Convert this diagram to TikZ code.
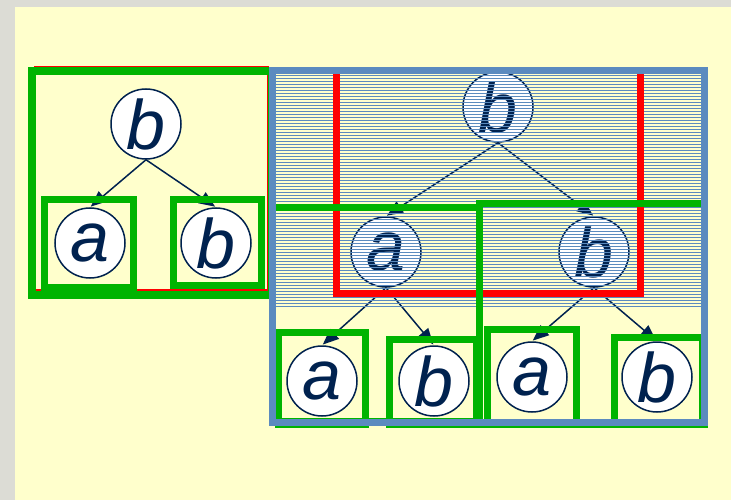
\documentclass[tikz,border=0pt]{standalone}
\usepackage{fontspec}
\setmainfont{Liberation Sans}
\usetikzlibrary{arrows.meta}

\definecolor{paper}{HTML}{FFFFCC}
\definecolor{marble}{HTML}{DCDCD5}
\definecolor{navy}{HTML}{00224F}
\definecolor{boxgreen}{HTML}{00B400}
\definecolor{boxred}{HTML}{FF0000}
\definecolor{steel}{HTML}{5B8BBF}

\begin{document}
\begin{tikzpicture}[x=1pt,y=-1pt]
    \tikzstyle{vert} = [draw=navy, line width=1.5pt, fill=white, circle, minimum size=70pt, inner sep=0pt, text=navy, font=\fontsize{70}{70}\selectfont\itshape]
    \tikzstyle{arrow} = [navy, line width=1.5pt, ->, >={Triangle[length=16pt,width=13pt]}, shorten >=1pt]
    \tikzstyle{frame} = [draw=boxgreen, line width=7pt]
    \tikzstyle{hatch} = [steel, line width=0.9pt]

    \useasboundingbox (0,0) rectangle (731,500);
    \fill[marble] (0,0) rectangle (731,500);
    \fill[paper] (15,7) rectangle (731,500);

    % small tree
    \node (lroot) [vert] at (146,124) {b};
    \node (la) [vert] at (90,243) {a};
    \node (lb) [vert] at (216,243) {b};
    \draw [arrow] (lroot.south) -- (la.north);
    \draw [arrow] (lroot.south) -- (lb.north);
    \draw [boxred, line width=1.2pt] (35,67) rectangle (268,290);
    \draw [frame, line width=8pt] (31.5,71.5) rectangle (272,295);
    \draw [frame] (44.5,199.5) rectangle (133.5,287.5);
    \draw [frame] (173.5,199.5) rectangle (261.5,285.5);

    % big tree
    \node (rroot) [vert] at (498,107) {b};
    \node (ra) [vert] at (386,252) {a};
    \node (rb) [vert] at (594,252) {b};
    \node (raa) [vert] at (322,381) {a};
    \node (rab) [vert] at (434,381) {b};
    \node (rba) [vert] at (532,377) {a};
    \node (rbb) [vert] at (657,377) {b};
    \draw [arrow] (rroot.south) -- (ra.north);
    \draw [arrow] (rroot.south) -- (rb.north);
    \draw [arrow] (ra.south) -- (raa.north);
    \draw [arrow] (ra.south) -- (rab.north);
    \draw [arrow] (rb.south) -- (rba.north);
    \draw [arrow] (rb.south) -- (rbb.north);

    % striped upper part
    \foreach \y in {75,78,...,306}
        \draw [hatch] (276,\y) -- (701,\y);
    \draw [boxred, line width=7pt] (336,71) rectangle (640,293);

    \draw [frame] (272,207) rectangle (479,421);
    \draw [frame] (479,203) rectangle (704,424);
    \draw [frame] (278.5,332.5) rectangle (365.5,424.5);
    \draw [frame] (389.5,339) rectangle (476,424.5);
    \draw [frame] (487,329.5) rectangle (576,424.5);
    \draw [frame] (614,337) rectangle (702,424.5);
    \draw [steel, line width=7pt] (272,70.5) rectangle (704.5,422);
\end{tikzpicture}
\end{document}
